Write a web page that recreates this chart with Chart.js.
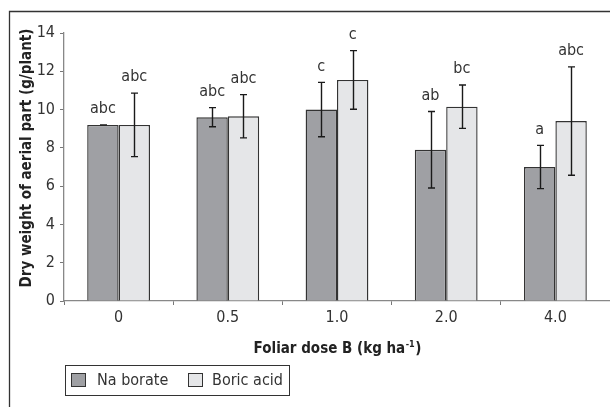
<!DOCTYPE html>
<html>
<head>
<meta charset="utf-8">
<script src="https://cdn.jsdelivr.net/npm/chart.js@4/dist/chart.umd.min.js"></script>
<style>
  html, body { margin: 0; padding: 0; background: #fff; }
  #wrap { position: relative; width: 610px; height: 407px; }
</style>
</head>
<body>
<div id="wrap"><canvas id="c" width="610" height="407"></canvas></div>
<script>
// Foliar boron dose (kg ha-1)
const categories = ['0', '0.5', '1.0', '2.0', '4.0'];
// Dry weight of aerial part (g/plant)
const naBorate = [9.2, 9.6, 10.0, 7.9, 7.0];
const boricAcid = [9.2, 9.65, 11.55, 10.15, 9.4];
// Error bar half-lengths
const naBorateErr = [0, 0.5, 1.42, 2.0, 1.13];
const boricAcidErr = [1.66, 1.13, 1.53, 1.13, 2.83];
// Mean separation letters
const naBorateLetters = ['abc', 'abc', 'c', 'ab', 'a'];
const boricAcidLetters = ['abc', 'abc', 'c', 'bc', 'abc'];
const yTicks = [0, 2, 4, 6, 8, 10, 12, 14];

const FONT = "'Liberation Sans Narrow', 'Arial Narrow', 'DejaVu Sans Condensed', sans-serif";
const NA_COLOR = '#9fa0a4';
const BORIC_COLOR = '#e5e6e8';
const EDGE = '#333333';

const errors = [naBorateErr, boricAcidErr];
const letters = [naBorateLetters, boricAcidLetters];

const decorations = {
  id: 'decorations',
  beforeDraw(chart) {
    const ctx = chart.ctx;
    ctx.save();
    ctx.fillStyle = '#fff';
    ctx.fillRect(0, 0, chart.width, chart.height);
    // outer frame (left and top edges)
    ctx.strokeStyle = '#333';
    ctx.lineWidth = 1.3;
    ctx.beginPath();
    ctx.moveTo(9.5, 407);
    ctx.lineTo(9.5, 11.5);
    ctx.lineTo(610, 11.5);
    ctx.stroke();
    ctx.restore();
  },
  afterDatasetsDraw(chart) {
    const ctx = chart.ctx;
    const y = chart.scales.y;
    ctx.save();
    chart.data.datasets.forEach((ds, di) => {
      const meta = chart.getDatasetMeta(di);
      meta.data.forEach((bar, i) => {
        const v = ds.data[i];
        const e = errors[di][i];
        const yt = y.getPixelForValue(v + e);
        const yb = y.getPixelForValue(v - e);
        const x = Math.round(bar.x) + 0.5;
        ctx.strokeStyle = '#1a1a1a';
        ctx.lineWidth = 1.4;
        ctx.beginPath();
        ctx.moveTo(x, yt); ctx.lineTo(x, yb);
        ctx.moveTo(x - 3.5, yt); ctx.lineTo(x + 3.5, yt);
        ctx.moveTo(x - 3.5, yb); ctx.lineTo(x + 3.5, yb);
        ctx.stroke();
        // letters above each bar
        ctx.fillStyle = '#333';
        ctx.font = '16px ' + FONT;
        ctx.textAlign = 'center';
        ctx.textBaseline = 'bottom';
        ctx.fillText(letters[di][i], bar.x, yt - 8);
      });
    });
    ctx.restore();
  },
  afterDraw(chart) {
    const ctx = chart.ctx;
    const area = chart.chartArea;
    ctx.save();
    ctx.fillStyle = '#222';
    // y axis title
    ctx.font = 'bold 15px ' + FONT;
    ctx.textAlign = 'center';
    ctx.textBaseline = 'middle';
    ctx.translate(27, 158);
    ctx.rotate(-Math.PI / 2);
    ctx.fillText('Dry weight of aerial part (g/plant)', 0, 0);
    ctx.setTransform(1, 0, 0, 1, 0, 0);
    // x axis title with superscript
    const main = 'Foliar dose B (kg ha';
    const sup = '-1';
    const close = ')';
    ctx.font = 'bold 15px ' + FONT;
    const w1 = ctx.measureText(main).width;
    const w3 = ctx.measureText(close).width;
    ctx.font = 'bold 9px ' + FONT;
    const w2 = ctx.measureText(sup).width;
    const cx = (area.left + area.right) / 2;
    const x0 = cx - (w1 + w2 + w3) / 2;
    const yb = 353;
    ctx.textAlign = 'left';
    ctx.textBaseline = 'alphabetic';
    ctx.font = 'bold 15px ' + FONT;
    ctx.fillText(main, x0, yb);
    ctx.font = 'bold 9px ' + FONT;
    ctx.fillText(sup, x0 + w1 + 0.5, yb - 6);
    ctx.font = 'bold 15px ' + FONT;
    ctx.fillText(close, x0 + w1 + w2 + 1, yb);
    // legend
    ctx.strokeStyle = '#333';
    ctx.lineWidth = 1;
    ctx.strokeRect(65.5, 365.5, 224, 30);
    const swX = [71.5, 188.5];
    const txX = [97, 212];
    chart.data.datasets.forEach((d, i) => {
      ctx.fillStyle = d.backgroundColor;
      ctx.fillRect(swX[i], 373.5, 14, 13);
      ctx.strokeStyle = EDGE;
      ctx.strokeRect(swX[i], 373.5, 14, 13);
      ctx.fillStyle = '#333';
      ctx.font = '16px ' + FONT;
      ctx.textBaseline = 'middle';
      ctx.fillText(d.label, txX[i], 381);
    });
    ctx.restore();
  }
};

new Chart(document.getElementById('c'), {
  type: 'bar',
  data: {
    labels: categories,
    datasets: [
      { label: 'Na borate', data: naBorate, backgroundColor: NA_COLOR, borderColor: EDGE, borderWidth: 1.4 },
      { label: 'Boric acid', data: boricAcid, backgroundColor: BORIC_COLOR, borderColor: EDGE, borderWidth: 1.4 }
    ]
  },
  options: {
    responsive: false,
    animation: false,
    devicePixelRatio: 1,
    layout: { padding: { top: 33, right: 0, left: 0, bottom: 0 } },
    datasets: { bar: { categoryPercentage: 0.575, barPercentage: 1.0 } },
    plugins: { legend: { display: false }, tooltip: { enabled: false } },
    scales: {
      x: {
        grid: { drawOnChartArea: false, offset: true, tickLength: 4, color: '#777' },
        border: { color: '#888', width: 1.3 },
        ticks: { color: '#333', font: { family: FONT, size: 16 }, padding: 3 },
        afterFit(scale) { scale.height = 106; }
      },
      y: {
        min: 0, max: 14,
        afterBuildTicks(scale) { scale.ticks = yTicks.map(v => ({ value: v })); },
        grid: { drawOnChartArea: false, tickLength: 4, color: '#777' },
        border: { color: '#888', width: 1.3 },
        ticks: { color: '#333', font: { family: FONT, size: 16 }, padding: 5 },
        afterFit(scale) { scale.width = 64; }
      }
    }
  },
  plugins: [decorations]
});
</script>
</body>
</html>
